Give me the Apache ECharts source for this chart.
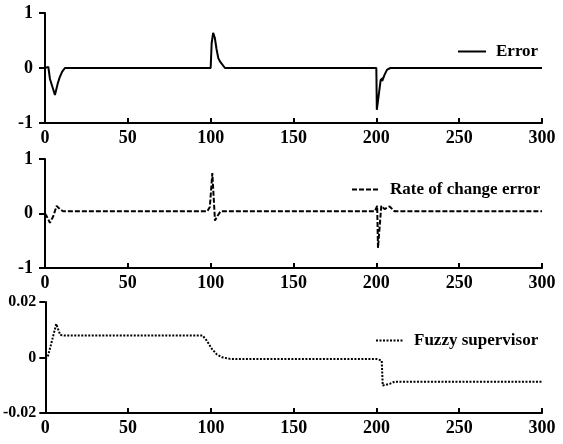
<!DOCTYPE html>
<html><head><meta charset="utf-8">
<script src="https://cdn.jsdelivr.net/npm/echarts@6/dist/echarts.min.js"></script>
<style>html,body{margin:0;padding:0;background:#fff}#c{width:563px;height:444px}</style>
</head><body><div id="c"></div>
<script>
// X tick labels shared by all panels
var xTicks = [0, 50, 100, 150, 200, 250, 300];
// Error
var errX = [0, 2, 3, 6, 7.8, 9, 10.3, 12, 100, 100.6, 101.5, 102.5, 103.5, 104.6, 105.6, 108.6, 200, 200.3, 202.6, 204, 203.5, 205, 206.5, 208.5, 300];
var errY = [0, 0.02, -0.2, -0.49, -0.27, -0.16, -0.07, 0, 0, 0.45, 0.64, 0.55, 0.35, 0.18, 0.12, 0, 0, -0.76, -0.22, -0.18, -0.24, -0.12, -0.03, 0, 0];
// Rate of change error
var rateX = [0, 1, 3, 5, 7, 9, 11, 98, 99.5, 101, 102.6, 104, 106, 199, 200, 200.5, 201, 203, 205, 208, 211, 300];
var rateY = [0, -0.05, -0.17, -0.05, 0.14, 0.08, 0.04, 0.04, 0.12, 0.74, -0.13, -0.05, 0.04, 0.04, 0.1, 0.14, -0.63, 0.14, 0.08, 0.13, 0.04, 0.04];
// Fuzzy supervisor
var fuzX = [0, 1.5, 3, 6.6, 9, 12, 95, 97.5, 100.6, 103.6, 106.6, 111.6, 200, 203.2, 203.8, 208, 211, 300];
var fuzY = [-0.0005, 0.0003, 0.0037, 0.0121, 0.0081, 0.0079, 0.0079, 0.0061, 0.0031, 0.0011, 0.0001, -0.0005, -0.0005, -0.0011, -0.0101, -0.0095, -0.0087, -0.0087];

function zip(a, b) { return a.map(function (v, i) { return [v, b[i]]; }); }

var FONT = 'Liberation Serif';
var grids = [
  {left: 45, right: 21, top: 13, height: 110},
  {left: 45, right: 21, top: 159, height: 109},
  {left: 45, right: 21, top: 302, height: 111}
];
function xAxis(i) {
  return {
    type: 'value', gridIndex: i, min: xTicks[0], max: xTicks[xTicks.length - 1], interval: 50,
    axisLine: {onZero: false, lineStyle: {color: '#000', width: 2}},
    axisTick: {inside: true, length: 5, lineStyle: {color: '#000', width: 2}},
    axisLabel: {color: '#000', fontFamily: FONT, fontWeight: 'bold', fontSize: 18, margin: 6},
    splitLine: {show: false}
  };
}
function yAxis(i, min, max, interval, fs, margin) {
  return {
    type: 'value', gridIndex: i, min: min, max: max, interval: interval,
    axisLine: {show: true, onZero: false, lineStyle: {color: '#000', width: 2}},
    axisTick: {show: true, length: 6, lineStyle: {color: '#000', width: 2}},
    axisLabel: {color: '#000', fontFamily: FONT, fontWeight: 'bold', fontSize: fs, margin: margin,
      formatter: function (v) { return v === 0 ? '0' : String(+v.toFixed(4)); }},
    splitLine: {show: false}
  };
}
function legend(name, left, top) {
  return {
    data: [name], left: left, top: top, itemWidth: 28, itemHeight: 12, padding: 0,
    itemStyle: {opacity: 0},
    textStyle: {color: '#000', fontFamily: FONT, fontWeight: 'bold', fontSize: 17, padding: [0, 0, 0, 5]}
  };
}
var chart = echarts.init(document.getElementById('c'), null, {renderer: 'canvas'});
chart.setOption({
  animation: false,
  backgroundColor: '#fff',
  grid: grids,
  xAxis: [xAxis(0), xAxis(1), xAxis(2)],
  yAxis: [yAxis(0, -1, 1, 1, 18, 12), yAxis(1, -1, 1, 1, 18, 12), yAxis(2, -0.02, 0.02, 0.02, 16, 9)],
  legend: [legend('Error', 457, 43), legend('Rate of change error', 351, 181), legend('Fuzzy supervisor', 375, 332)],
  series: [
    {name: 'Error', type: 'line', xAxisIndex: 0, yAxisIndex: 0, data: zip(errX, errY), symbol: 'none',
      lineStyle: {color: '#000', width: 2}, itemStyle: {color: '#000'}},
    {name: 'Rate of change error', type: 'line', xAxisIndex: 1, yAxisIndex: 1, data: zip(rateX, rateY), symbol: 'none',
      lineStyle: {color: '#000', width: 2, type: [5, 2]}, itemStyle: {color: '#000'}},
    {name: 'Fuzzy supervisor', type: 'line', xAxisIndex: 2, yAxisIndex: 2, data: zip(fuzX, fuzY), symbol: 'none',
      lineStyle: {color: '#000', width: 2, type: [2, 1.5]}, itemStyle: {color: '#000'}}
  ]
});
</script></body></html>
